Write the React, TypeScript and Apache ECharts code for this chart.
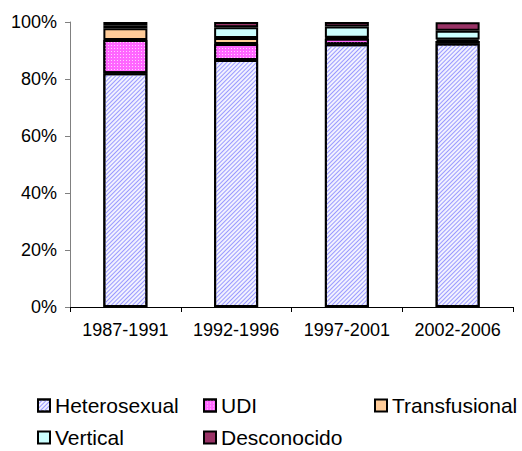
import React, { useEffect, useRef } from "react";
import * as echarts from "echarts";

const categories = ["1987-1991", "1992-1996", "1997-2001", "2002-2006"];
const heterosexual = [82.0, 86.7, 92.2, 92.5];
const udi = [11.7, 5.6, 2.0, 0.8];
const transfusional = [4.1, 2.1, 0.3, 0.6];
const vertical = [0.9, 3.8, 3.9, 3.0];
const desconocido = [1.3, 1.8, 1.6, 3.0];
const yTicks = [0, 20, 40, 60, 80, 100];

const FONT = "Liberation Sans, Arial, sans-serif";

export default function App() {
  const ref = useRef<HTMLDivElement>(null);
  useEffect(() => {
    if (!ref.current) return;
    const chart = echarts.init(ref.current, undefined, { renderer: "svg" });
    const border = { borderColor: "#000", borderWidth: 2 };
    const mk = (name: string, data: number[], itemStyle: any) => ({
      name,
      type: "bar",
      stack: "total",
      data,
      barWidth: 44,
      itemStyle: { ...border, ...itemStyle },
    });
    const series = [
      mk("Heterosexual", heterosexual, {
        color: "#f2f2ff",
        decal: {
          symbol: "rect",
          symbolSize: 1,
          color: "#9a9aff",
          dashArrayX: [1, 0],
          dashArrayY: [1, 2],
          rotation: -Math.PI / 4,
        },
      }),
      mk("UDI", udi, {
        color: "#ff66ff",
        decal: {
          symbol: "rect",
          symbolSize: 1,
          color: "#ffd0ff",
          dashArrayX: [1, 2],
          dashArrayY: [1, 2],
          rotation: 0,
        },
      }),
      mk("Transfusional", transfusional, { color: "#ffcc99" }),
      mk("Vertical", vertical, { color: "#ccffff" }),
      mk("Desconocido", desconocido, { color: "#993366" }),
    ];
    const legendBase = {
      orient: "horizontal",
      itemWidth: 12,
      itemHeight: 12,
      itemGap: 5,
      icon: "rect",
      textStyle: { fontFamily: FONT, fontSize: 21, color: "#000", padding: [0, 0, 0, 0] },
      padding: 0,
    };
    const legendPos: [string, number, number][] = [
      ["Heterosexual", 37, 395],
      ["UDI", 203, 395],
      ["Transfusional", 374, 395],
      ["Vertical", 37, 427],
      ["Desconocido", 203, 427],
    ];
    chart.setOption({
      animation: false,
      grid: { left: 70, top: 22, right: 9, bottom: 144, containLabel: false },
      xAxis: {
        type: "category",
        data: categories,
        axisLine: { lineStyle: { color: "#000", width: 1 } },
        axisTick: { show: true, length: 5, inside: false, lineStyle: { color: "#000" } },
        axisLabel: {
          fontFamily: FONT,
          fontSize: 18,
          color: "#000",
          margin: 14,
          interval: 0,
          hideOverlap: false,
        },
      },
      yAxis: {
        type: "value",
        min: yTicks[0],
        max: yTicks[yTicks.length - 1],
        interval: 20,
        axisLine: { show: true, lineStyle: { color: "#808080", width: 1 } },
        axisTick: { show: true, length: 5, lineStyle: { color: "#808080" } },
        splitLine: { show: false },
        axisLabel: {
          fontFamily: FONT,
          fontSize: 18,
          color: "#000",
          margin: 13,
          formatter: "{value}%",
        },
      },
      legend: legendPos.map(([name, left, top]) => ({
        ...legendBase,
        data: [name],
        left,
        top,
        itemStyle: { borderColor: "#000", borderWidth: 2 },
      })),
      series,
    });
    return () => chart.dispose();
  }, []);
  return <div ref={ref} style={{ width: 522, height: 451, position: "absolute", left: 0, top: 0 }} />;
}
